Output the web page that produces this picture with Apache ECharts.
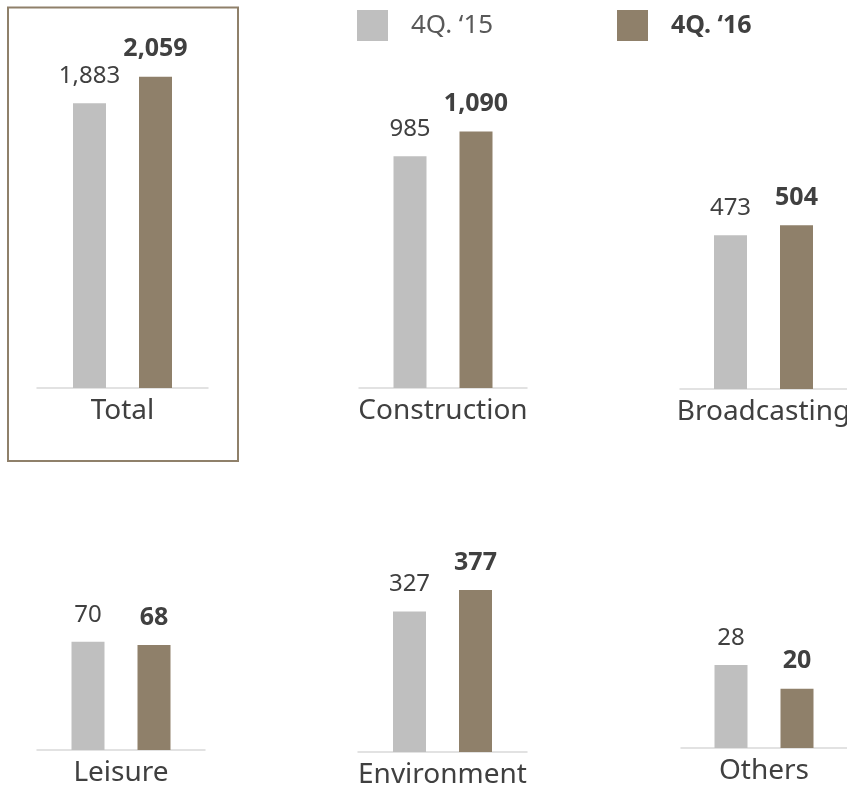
<!DOCTYPE html>
<html>
<head>
<meta charset="utf-8">
<script src="https://cdn.jsdelivr.net/npm/echarts@6/dist/echarts.min.js"></script>
<style>
  html, body { margin: 0; padding: 0; background: #ffffff; }
  #chart { width: 847px; height: 788px; }
</style>
</head>
<body>
<div id="chart"></div>
<script>
// Business segments, 4Q. '15 vs 4Q. '16
const categories = ['Total', 'Construction', 'Broadcasting', 'Leisure', 'Environment', 'Others'];
const q4_2015 = [1883, 985, 473, 70, 327, 28];
const q4_2016 = [2059, 1090, 504, 68, 377, 20];
const seriesNames = ['4Q. \u201815', '4Q. \u201816'];

// each small panel has its own value scale
const axisMax = [2500, 1500, 1000, 200, 700, 100];

// panel placement (left, width, top, height) in px
const panels = [
  { left: 37,  width: 171, top: 10,  height: 378 },
  { left: 359, width: 168, top: 35,  height: 353 },
  { left: 680, width: 167, top: 64,  height: 325 },
  { left: 37,  width: 168, top: 441, height: 309 },
  { left: 358, width: 169, top: 451, height: 301 },
  { left: 681, width: 166, top: 452, height: 296 }
];

const FONT = 'Noto Sans';
const TEXT = '#404040';
const GREY = '#BFBFBF';
const BROWN = '#8F806A';

const fmt = v => v.toLocaleString('en-US');

const grid = [], xAxis = [], yAxis = [], series = [];
panels.forEach((p, i) => {
  grid.push({
    left: p.left, top: p.top, width: p.width, height: p.height,
    containLabel: false, outerBoundsMode: 'none'
  });
  xAxis.push({
    type: 'category', gridIndex: i, data: [categories[i]],
    axisTick: { show: false },
    axisLine: { lineStyle: { color: '#D9D9D9', width: 1.5 } },
    axisLabel: { color: TEXT, fontFamily: FONT, fontSize: 28, margin: 9 }
  });
  yAxis.push({
    type: 'value', gridIndex: i, min: 0, max: axisMax[i],
    show: false, splitLine: { show: false }
  });
  [q4_2015, q4_2016].forEach((arr, s) => {
    series.push({
      type: 'bar', name: seriesNames[s],
      xAxisIndex: i, yAxisIndex: i,
      data: [arr[i]],
      barWidth: 33, barGap: '100%',
      itemStyle: { color: s === 0 ? GREY : BROWN },
      label: {
        show: true, position: 'top', distance: 15,
        formatter: d => fmt(d.value),
        color: TEXT, fontFamily: FONT,
        fontSize: s === 0 ? 24 : 25,
        fontWeight: s === 0 ? 'normal' : 'bold'
      },
      animation: false
    });
  });
});

const chart = echarts.init(document.getElementById('chart'), null, { renderer: 'canvas' });
chart.setOption({
  backgroundColor: '#ffffff',
  animation: false,
  textStyle: { fontFamily: FONT },
  legend: [
    {
      data: [seriesNames[0]], left: 357, top: 10, padding: 0,
      icon: 'rect', itemWidth: 31, itemHeight: 31,
      textStyle: { color: '#595959', fontFamily: FONT, fontSize: 26, padding: [0, 0, 0, 18] }
    },
    {
      data: [seriesNames[1]], left: 617, top: 10, padding: 0,
      icon: 'rect', itemWidth: 31, itemHeight: 31,
      textStyle: { color: TEXT, fontFamily: FONT, fontSize: 25, fontWeight: 'bold', padding: [0, 0, 0, 18] }
    }
  ],
  graphic: [{
    type: 'rect', silent: true,
    shape: { x: 8, y: 7.5, width: 230, height: 453.5 },
    style: { fill: 'none', stroke: BROWN, lineWidth: 2 }
  }],
  grid, xAxis, yAxis, series
});
</script>
</body>
</html>
